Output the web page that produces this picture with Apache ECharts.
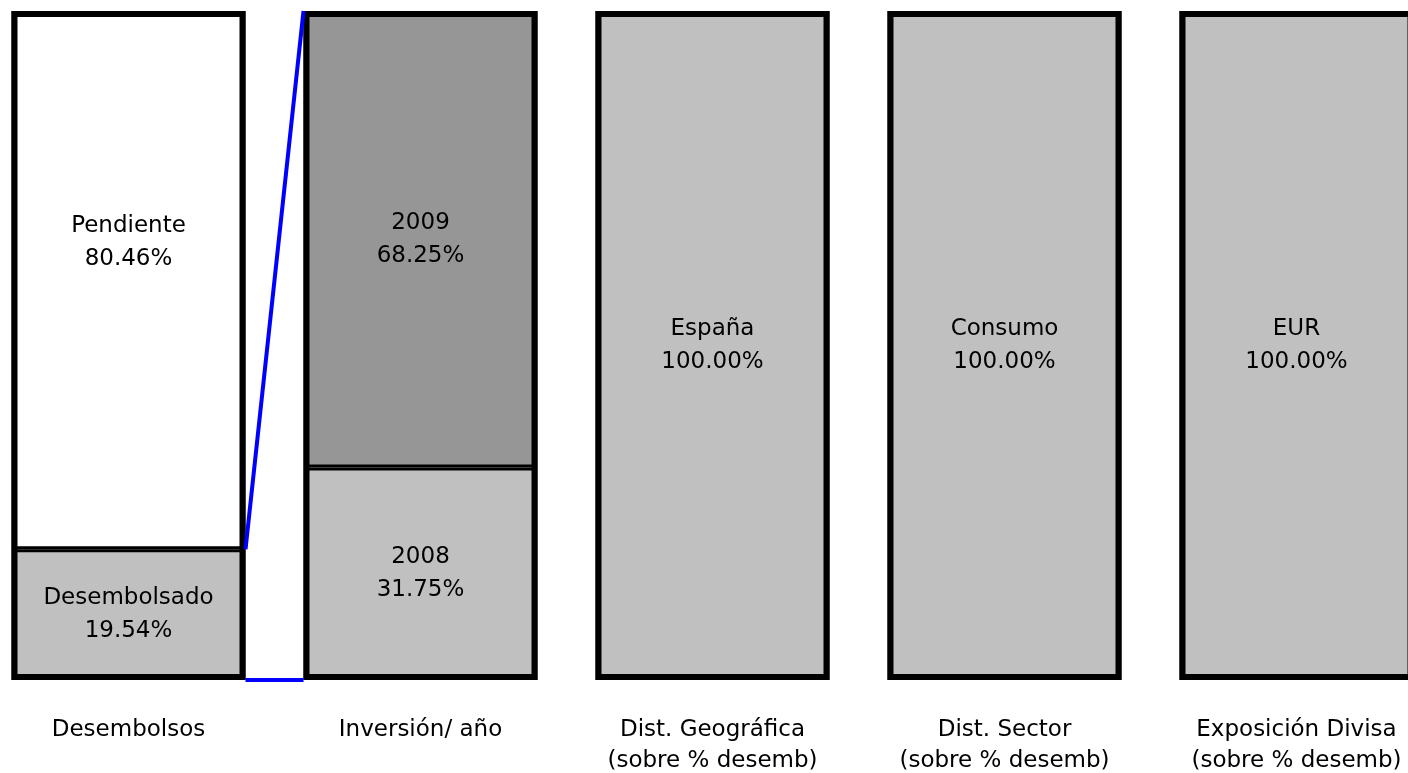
<!DOCTYPE html>
<html>
<head>
<meta charset="utf-8">
<script src="https://cdn.jsdelivr.net/npm/echarts@6/dist/echarts.min.js"></script>
<style>
  html, body { margin: 0; padding: 0; background: #fff; }
  #chart { width: 1408px; height: 773px; }
</style>
</head>
<body>
<div id="chart"></div>
<script>
// datos del grafico
var categories = ['Desembolsos', 'Inversión/ año', 'Dist. Geográfica\n(sobre % desemb)', 'Dist. Sector\n(sobre % desemb)', 'Exposición Divisa\n(sobre % desemb)'];
var lowerNames = ['Desembolsado', '2008', 'España', 'Consumo', 'EUR'];
var lowerValues = [19.54, 31.75, 100, 100, 100];
var upperNames = ['Pendiente', '2009', null, null, null];
var upperValues = [80.46, 68.25, null, null, null];
var upperColors = ['#ffffff', '#969696', null, null, null];
var totals = [100, 100, 100, 100, 100];

var BAR_W = 234;
var FONT = '"DejaVu Sans", Verdana, sans-serif';

var chart = echarts.init(document.getElementById('chart'));

var lowerData = [];
var upperData = [];
for (var i = 0; i < categories.length; i++) {
    lowerData.push({ value: lowerValues[i], name: lowerNames[i] });
    if (upperValues[i] === null) {
        upperData.push('-');
    } else {
        var item = { value: upperValues[i], name: upperNames[i], itemStyle: { color: upperColors[i] } };
        if (i === 0) item.label = { offset: [0, -38] };
        upperData.push(item);
    }
}

// lineas de conexion: desembolsado -> inversion
var links = [
    [0, lowerValues[0], 1, totals[1]],
    [0, 0, 1, 0]
];

var labelFmt = function (p) {
    return p.name + '\n' + p.value.toFixed(2) + '%';
};

var segLabel = {
    show: true,
    position: 'inside',
    formatter: labelFmt,
    color: '#000',
    fontFamily: FONT,
    fontSize: 23,
    lineHeight: 33
};

var option = {
    animation: false,
    grid: { left: -17.5, right: -34.5, top: 11, bottom: 93, outerBoundsMode: 'none' },
    xAxis: {
        type: 'category',
        data: categories,
        axisLine: { show: false },
        axisTick: { show: false },
        axisLabel: {
            margin: 35,
            color: '#000',
            fontFamily: FONT,
            fontSize: 23,
            lineHeight: 31,
            interval: 0
        }
    },
    yAxis: { type: 'value', min: 0, max: 100, show: false },
    series: [
        {
            type: 'bar',
            stack: 'total',
            barWidth: BAR_W,
            barGap: '-100%',
            data: lowerData,
            itemStyle: { color: '#c0c0c0', borderColor: '#000', borderWidth: 3 },
            label: segLabel
        },
        {
            type: 'bar',
            stack: 'total',
            barWidth: BAR_W,
            barGap: '-100%',
            data: upperData,
            itemStyle: { borderColor: '#000', borderWidth: 3 },
            label: segLabel
        },
        {
            // marco exterior
            type: 'bar',
            barWidth: BAR_W,
            barGap: '-100%',
            data: totals,
            silent: true,
            itemStyle: { color: 'rgba(0,0,0,0)', borderColor: '#000', borderWidth: 6 }
        },
        {
            type: 'custom',
            data: links,
            z: 5,
            renderItem: function (params, api) {
                var p1 = api.coord([api.value(0), api.value(1)]);
                var p2 = api.coord([api.value(2), api.value(3)]);
                var half = BAR_W / 2;
                return {
                    type: 'line',
                    shape: { x1: p1[0] + half, y1: p1[1], x2: p2[0] - half, y2: p2[1] },
                    style: { stroke: '#0000ff', lineWidth: 4 }
                };
            }
        }
    ]
};

chart.setOption(option);
</script>
</body>
</html>
